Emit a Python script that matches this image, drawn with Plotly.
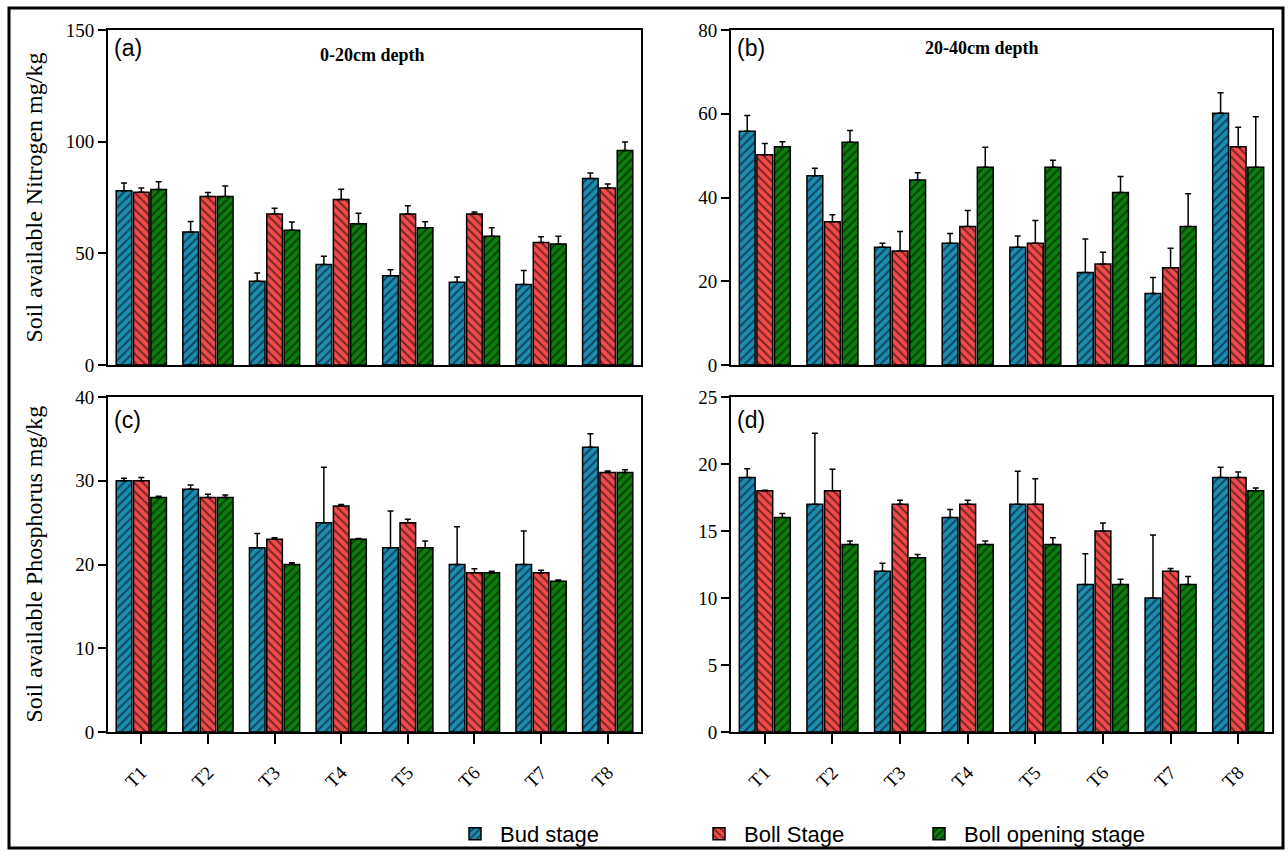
import plotly.graph_objects as go

W, H = 1288, 852

categories = ["T1", "T2", "T3", "T4", "T5", "T6", "T7", "T8"]
series_names = ["Bud stage", "Boll Stage", "Boll opening stage"]

# (a) Soil available Nitrogen, 0-20cm
n1_bud = [78.0, 59.5, 37.5, 45.0, 40.0, 37.0, 36.0, 83.5]
n1_bud_err = [3.5, 4.8, 3.7, 3.7, 2.7, 2.4, 6.3, 2.5]
n1_boll = [77.3, 75.4, 67.6, 74.1, 67.6, 67.6, 54.8, 79.2]
n1_boll_err = [1.9, 1.8, 2.6, 4.6, 3.7, 0.9, 2.6, 1.8]
n1_open = [78.6, 75.4, 60.3, 63.2, 61.5, 57.7, 54.2, 96.1]
n1_open_err = [3.5, 4.8, 3.7, 4.7, 2.6, 3.8, 3.5, 3.8]

# (b) Soil available Nitrogen, 20-40cm
n2_bud = [55.8, 45.2, 28.1, 29.1, 28.1, 22.1, 17.1, 60.1]
n2_bud_err = [3.8, 1.8, 1.0, 2.3, 2.7, 8.0, 3.8, 4.9]
n2_boll = [50.2, 34.2, 27.2, 33.1, 29.1, 24.1, 23.2, 52.1]
n2_boll_err = [2.7, 1.7, 4.7, 3.8, 5.4, 2.8, 4.7, 4.7]
n2_open = [52.1, 53.2, 44.2, 47.2, 47.2, 41.2, 33.1, 47.2]
n2_open_err = [1.2, 2.8, 1.7, 4.8, 1.7, 3.8, 7.8, 12.1]

# (c) Soil available Phosphorus, 0-20cm
p1_bud = [30, 29, 22, 25, 22, 20, 20, 34]
p1_bud_err = [0.3, 0.5, 1.7, 6.6, 4.4, 4.5, 4.0, 1.6]
p1_boll = [30, 28, 23, 27, 25, 19, 19, 31]
p1_boll_err = [0.4, 0.4, 0.2, 0.15, 0.4, 0.5, 0.3, 0.15]
p1_open = [28, 28, 20, 23, 22, 19, 18, 31]
p1_open_err = [0.15, 0.3, 0.2, 0.1, 0.8, 0.2, 0.15, 0.3]

# (d) Soil available Phosphorus, 20-40cm
p2_bud = [19, 17, 12, 16, 17, 11, 10, 19]
p2_bud_err = [0.65, 5.3, 0.6, 0.6, 2.45, 2.3, 4.7, 0.75]
p2_boll = [18, 18, 17, 17, 17, 15, 12, 19]
p2_boll_err = [0.05, 1.6, 0.3, 0.3, 1.9, 0.6, 0.2, 0.4]
p2_open = [16, 14, 13, 14, 14, 11, 11, 18]
p2_open_err = [0.3, 0.25, 0.25, 0.25, 0.5, 0.4, 0.6, 0.2]

colors = ["#1d8db2", "#f24b4b", "#0c7d0c"]
patterns = ["/", "\\", "/"]

def X(px):
    return px / W

def Y(py):
    return 1 - py / H

panels = [
    dict(x="x", y="y", data=[(n1_bud, n1_bud_err), (n1_boll, n1_boll_err), (n1_open, n1_open_err)]),
    dict(x="x2", y="y2", data=[(n2_bud, n2_bud_err), (n2_boll, n2_boll_err), (n2_open, n2_open_err)]),
    dict(x="x3", y="y3", data=[(p1_bud, p1_bud_err), (p1_boll, p1_boll_err), (p1_open, p1_open_err)]),
    dict(x="x4", y="y4", data=[(p2_bud, p2_bud_err), (p2_boll, p2_boll_err), (p2_open, p2_open_err)]),
]

legend_ids = ["legend", "legend2", "legend3"]

fig = go.Figure()
for pi, p in enumerate(panels):
    for si, (vals, errs) in enumerate(p["data"]):
        fig.add_trace(go.Bar(
            x=categories, y=vals, name=series_names[si],
            xaxis=p["x"], yaxis=p["y"],
            offsetgroup=str(si),
            marker=dict(color=colors[si],
                        line=dict(color="black", width=1.5),
                        pattern=dict(shape=patterns[si], fgcolor="black",
                                     bgcolor=colors[si], size=6, solidity=0.33)),
            error_y=dict(type="data", array=errs, arrayminus=[0] * len(errs),
                         symmetric=False, color="black", thickness=1.5, width=3),
            showlegend=(pi == 0),
            legend=legend_ids[si],
        ))

tick_font = dict(family="Liberation Serif", size=19, color="black")
xl, xr = 108, 641
xl2, xr2 = 731, 1272
yt1, yb1 = 30, 365
yt2, yb2 = 397, 732

common_y = dict(showline=True, linecolor="black", linewidth=2, mirror=True,
                ticks="outside", ticklen=8, tickwidth=1.5, tickcolor="black",
                showgrid=False, zeroline=False, tickfont=tick_font, automargin=False)
common_x = dict(showline=True, linecolor="black", linewidth=2, mirror=True,
                showgrid=False, zeroline=False, range=[-0.5, 7.5],
                type="category", automargin=False)
xtick_font = dict(family="Liberation Serif", size=19, color="black")

fig.update_layout(
    width=W, height=H,
    margin=dict(l=0, r=0, t=0, b=0, autoexpand=False),
    paper_bgcolor="white", plot_bgcolor="white",
    barmode="group", bargap=0.22, bargroupgap=0.1,
    xaxis=dict(domain=[X(xl), X(xr)], anchor="y", showticklabels=False, ticks="", **common_x),
    yaxis=dict(domain=[Y(yb1), Y(yt1)], anchor="x", range=[0, 150], tickvals=[0, 50, 100, 150], **common_y),
    xaxis2=dict(domain=[X(xl2), X(xr2)], anchor="y2", showticklabels=False, ticks="", **common_x),
    yaxis2=dict(domain=[Y(yb1), Y(yt1)], anchor="x2", range=[0, 80], tickvals=[0, 20, 40, 60, 80], **common_y),
    xaxis3=dict(domain=[X(xl), X(xr)], anchor="y3", ticks="outside", ticklen=10, tickwidth=1.5,
                tickcolor="black", tickangle=-45, tickfont=xtick_font, ticklabelstandoff=10,
                **common_x),
    yaxis3=dict(domain=[Y(yb2), Y(yt2)], anchor="x3", range=[0, 40], tickvals=[0, 10, 20, 30, 40], **common_y),
    xaxis4=dict(domain=[X(xl2), X(xr2)], anchor="y4", ticks="outside", ticklen=10, tickwidth=1.5,
                tickcolor="black", tickangle=-45, tickfont=xtick_font, ticklabelstandoff=10,
                **common_x),
    yaxis4=dict(domain=[Y(yb2), Y(yt2)], anchor="x4", range=[0, 25], tickvals=[0, 5, 10, 15, 20, 25], **common_y),
)

legend_font = dict(family="Liberation Sans", size=22, color="black")
for lid, lx in zip(legend_ids, [450, 694, 914]):
    fig.update_layout({lid: dict(x=X(lx), y=Y(834), xref="container", yref="container",
                                 xanchor="left", yanchor="middle",
                                 orientation="h", font=legend_font, bgcolor="rgba(0,0,0,0)",
                                 itemwidth=40)})

anns = []
for txt, px, py in [("(a)", 112, 48), ("(b)", 735, 48), ("(c)", 112, 420), ("(d)", 735, 420)]:
    anns.append(dict(text=txt, x=X(px), y=Y(py), xref="paper", yref="paper",
                     xanchor="left", yanchor="middle", showarrow=False,
                     font=dict(family="Liberation Sans", size=23, color="black")))
for txt, px, py in [("0-20cm depth", 372, 55), ("20-40cm depth", 982, 48)]:
    anns.append(dict(text="<b>" + txt + "</b>", x=X(px), y=Y(py), xref="paper", yref="paper",
                     xanchor="center", yanchor="middle", showarrow=False,
                     font=dict(family="Liberation Serif", size=18, color="black")))
for txt, py in [("Soil available Nitrogen mg/kg", (yt1 + yb1) / 2),
                ("Soil available Phosphorus mg/kg", (yt2 + yb2) / 2)]:
    anns.append(dict(text=txt, x=X(33), y=Y(py), xref="paper", yref="paper",
                     xanchor="center", yanchor="middle", showarrow=False, textangle=-90,
                     font=dict(family="Liberation Serif", size=24, color="black")))
fig.update_layout(annotations=anns)

fig.add_shape(type="rect", xref="paper", yref="paper",
              x0=X(9), x1=X(1283), y0=Y(848), y1=Y(8),
              line=dict(color="black", width=3), fillcolor="rgba(0,0,0,0)")

fig.write_html("out.html")
